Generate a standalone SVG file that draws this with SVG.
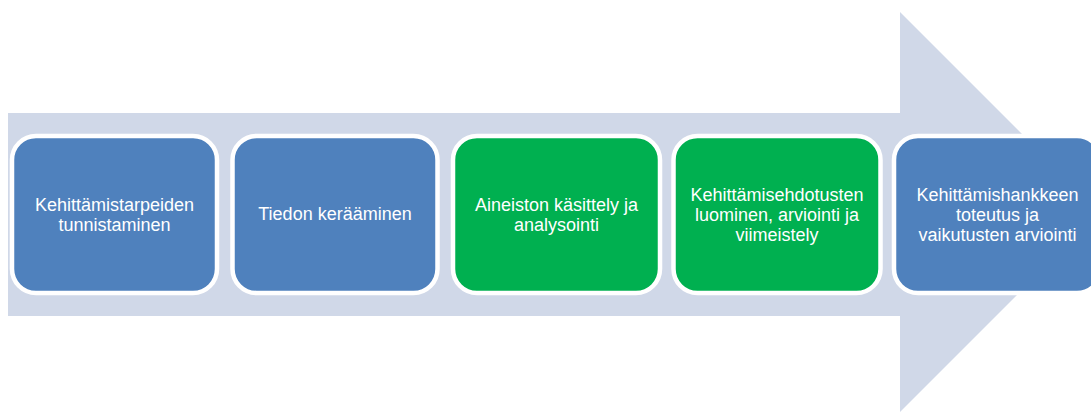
<svg xmlns="http://www.w3.org/2000/svg" width="1091" height="412" viewBox="0 0 1091 412">
<style>
.box{stroke:#ffffff;stroke-width:4.5}
.blue{fill:#4F81BD}
.green{fill:#00B050}
.t{font-family:"Liberation Sans",Arial,sans-serif;font-size:18px;fill:#ffffff;text-anchor:middle}
</style>
<rect width="1091" height="412" fill="#ffffff"/>
<g id="arrow">
<polygon points="8,113 900,113 900,12 1100,212 900,412 900,316 8,316" fill="#D0D8E8"/>
</g>
<g id="node1">
<rect class="box blue" x="12" y="136" width="205" height="157" rx="24"/>
<text class="t" x="114.5" y="210.5">Kehittämistarpeiden</text>
<text class="t" x="114.5" y="230.5">tunnistaminen</text>
</g>
<g id="node2">
<rect class="box blue" x="232.5" y="136" width="205" height="157" rx="24"/>
<text class="t" x="335" y="220">Tiedon kerääminen</text>
</g>
<g id="node3">
<rect class="box green" x="453" y="136" width="207" height="157" rx="24"/>
<text class="t" x="556.5" y="210.5">Aineiston käsittely ja</text>
<text class="t" x="556.5" y="230.5">analysointi</text>
</g>
<g id="node4">
<rect class="box green" x="673.5" y="136" width="207" height="157" rx="24"/>
<text class="t" x="777" y="200.5">Kehittämisehdotusten</text>
<text class="t" x="777" y="220.5">luominen, arviointi ja</text>
<text class="t" x="777" y="240.5">viimeistely</text>
</g>
<g id="node5">
<rect class="box blue" x="894" y="136" width="207" height="157" rx="24"/>
<text class="t" x="997.5" y="200.5">Kehittämishankkeen</text>
<text class="t" x="997.5" y="220.5">toteutus ja</text>
<text class="t" x="997.5" y="240.5">vaikutusten arviointi</text>
</g>
<g id="connectors"></g>
</svg>
